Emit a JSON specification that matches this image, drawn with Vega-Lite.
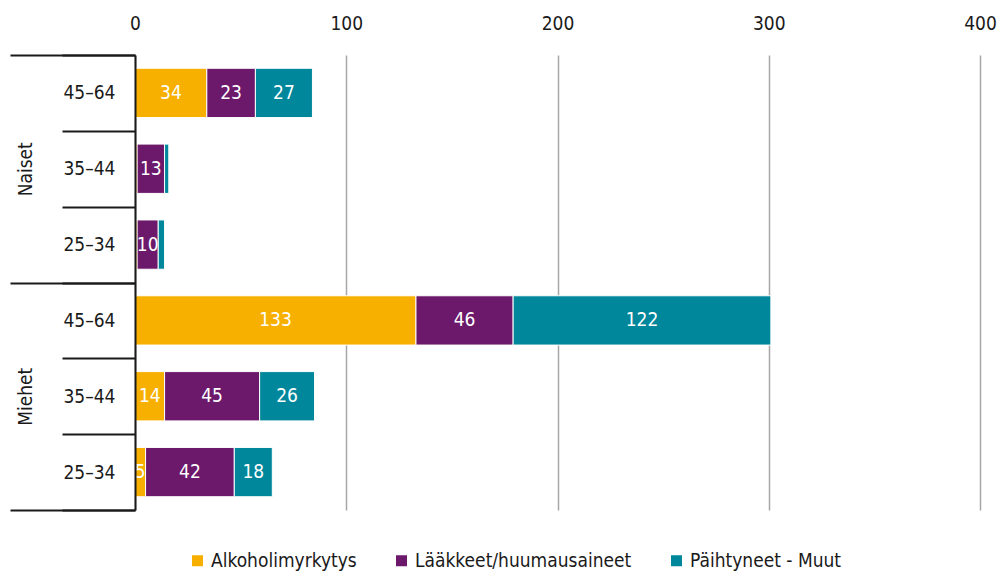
{
  "$schema": "https://vega.github.io/schema/vega-lite/v6.json",
  "width": 845,
  "height": 455,
  "autosize": "none",
  "padding": {"left": 135, "top": 55, "right": 17, "bottom": 61},
  "config": {
    "font": "DejaVu Sans Condensed, sans-serif",
    "view": {"stroke": null}
  },
  "data": {
    "values": [
      {"gender": "Naiset", "age": "45–64", "key": "Naiset|45–64", "category": "Alkoholimyrkytys", "order": 1, "value": 34},
      {"gender": "Naiset", "age": "45–64", "key": "Naiset|45–64", "category": "Lääkkeet/huumausaineet", "order": 2, "value": 23},
      {"gender": "Naiset", "age": "45–64", "key": "Naiset|45–64", "category": "Päihtyneet - Muut", "order": 3, "value": 27},
      {"gender": "Naiset", "age": "35–44", "key": "Naiset|35–44", "category": "Alkoholimyrkytys", "order": 1, "value": 1},
      {"gender": "Naiset", "age": "35–44", "key": "Naiset|35–44", "category": "Lääkkeet/huumausaineet", "order": 2, "value": 13},
      {"gender": "Naiset", "age": "35–44", "key": "Naiset|35–44", "category": "Päihtyneet - Muut", "order": 3, "value": 2},
      {"gender": "Naiset", "age": "25–34", "key": "Naiset|25–34", "category": "Alkoholimyrkytys", "order": 1, "value": 1},
      {"gender": "Naiset", "age": "25–34", "key": "Naiset|25–34", "category": "Lääkkeet/huumausaineet", "order": 2, "value": 10},
      {"gender": "Naiset", "age": "25–34", "key": "Naiset|25–34", "category": "Päihtyneet - Muut", "order": 3, "value": 3},
      {"gender": "Miehet", "age": "45–64", "key": "Miehet|45–64", "category": "Alkoholimyrkytys", "order": 1, "value": 133},
      {"gender": "Miehet", "age": "45–64", "key": "Miehet|45–64", "category": "Lääkkeet/huumausaineet", "order": 2, "value": 46},
      {"gender": "Miehet", "age": "45–64", "key": "Miehet|45–64", "category": "Päihtyneet - Muut", "order": 3, "value": 122},
      {"gender": "Miehet", "age": "35–44", "key": "Miehet|35–44", "category": "Alkoholimyrkytys", "order": 1, "value": 14},
      {"gender": "Miehet", "age": "35–44", "key": "Miehet|35–44", "category": "Lääkkeet/huumausaineet", "order": 2, "value": 45},
      {"gender": "Miehet", "age": "35–44", "key": "Miehet|35–44", "category": "Päihtyneet - Muut", "order": 3, "value": 26},
      {"gender": "Miehet", "age": "25–34", "key": "Miehet|25–34", "category": "Alkoholimyrkytys", "order": 1, "value": 5},
      {"gender": "Miehet", "age": "25–34", "key": "Miehet|25–34", "category": "Lääkkeet/huumausaineet", "order": 2, "value": 42},
      {"gender": "Miehet", "age": "25–34", "key": "Miehet|25–34", "category": "Päihtyneet - Muut", "order": 3, "value": 18}
    ]
  },
  "layer": [
    {
      "layer": [
        {
          "mark": {"type": "bar", "stroke": "white", "strokeWidth": 1, "height": {"band": 0.65}},
          "encoding": {
            "y": {
              "field": "key", "type": "nominal",
              "sort": ["Naiset|45–64", "Naiset|35–44", "Naiset|25–34", "Miehet|45–64", "Miehet|35–44", "Miehet|25–34"],
              "scale": {"paddingInner": 0, "paddingOuter": 0},
              "axis": {
                "orient": "left", "title": null, "tickBand": "extent", "tickSize": 73, "tickWidth": 2,
                "tickColor": "#1a1a1a", "domain": true, "domainColor": "#1a1a1a", "domainWidth": 2,
                "labelPadding": -53, "labelFontSize": 19, "labelColor": "#1a1a1a", "zindex": 2,
                "labelExpr": "split(datum.label, '|')[1]"
              }
            },
            "x": {
              "field": "value", "type": "quantitative", "stack": "zero",
              "scale": {"domain": [0, 400]},
              "axis": {
                "orient": "top", "title": null, "ticks": false, "tickSize": 0, "domain": false,
                "labelPadding": 22, "labelFontSize": 19, "labelColor": "#1a1a1a", "labelFlush": false,
                "values": [0, 100, 200, 300, 400], "grid": true, "gridColor": "#a6a6a6", "gridWidth": 1.5
              }
            },
            "color": {
              "field": "category", "type": "nominal",
              "scale": {
                "domain": ["Alkoholimyrkytys", "Lääkkeet/huumausaineet", "Päihtyneet - Muut"],
                "range": ["#f7b000", "#6c186b", "#00879b"]
              },
              "legend": {
                "orient": "none", "legendX": 53, "legendY": 496, "title": null, "direction": "horizontal",
                "symbolType": "square", "symbolSize": 121, "symbolStrokeWidth": 0, "labelFontSize": 19,
                "labelColor": "#1a1a1a", "labelLimit": 0, "labelOffset": 4, "columnPadding": 35
              }
            },
            "order": {"field": "order", "type": "quantitative"}
          }
        },
        {
          "mark": {"type": "text", "color": "white", "fontSize": 19},
          "encoding": {
            "y": {
              "field": "key", "type": "nominal",
              "sort": ["Naiset|45–64", "Naiset|35–44", "Naiset|25–34", "Miehet|45–64", "Miehet|35–44", "Miehet|25–34"]
            },
            "x": {"field": "value", "type": "quantitative", "stack": "zero", "bandPosition": 0.5},
            "detail": {"field": "category", "type": "nominal"},
            "order": {"field": "order", "type": "quantitative"},
            "text": {
              "field": "value", "type": "quantitative",
              "condition": {"test": "datum.value < 5", "value": ""}
            }
          }
        }
      ]
    },
    {
      "mark": {"type": "point", "opacity": 0},
      "encoding": {
        "y": {
          "field": "gender", "type": "nominal", "sort": ["Naiset", "Miehet"],
          "scale": {"paddingInner": 0, "paddingOuter": 0},
          "axis": {
            "orient": "left", "title": null, "tickBand": "extent", "tickSize": 125, "tickWidth": 2,
            "tickColor": "#1a1a1a", "domain": false, "labelAngle": -90, "labelAlign": "center", "zindex": 2,
            "labelBaseline": "alphabetic", "labelPadding": -21, "labelFontSize": 19, "labelColor": "#1a1a1a"
          }
        }
      }
    }
  ],
  "resolve": {"scale": {"y": "independent"}, "axis": {"y": "independent"}}
}
